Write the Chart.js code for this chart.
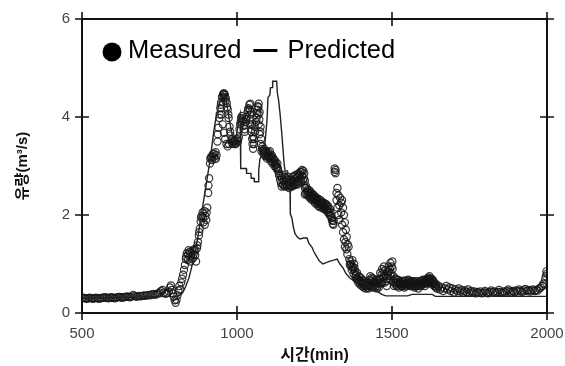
<!DOCTYPE html>
<html>
<head>
<meta charset="utf-8">
<script src="https://cdn.jsdelivr.net/npm/chart.js@4"></script>
<style>
  html, body { margin:0; padding:0; background:#fff; }
  #wrap { width:565px; height:366px; }
</style>
</head>
<body>
<div id="wrap"><canvas id="flowChart" width="565" height="366"></canvas></div>
<script>
/* ── data: time (min), flow (m³/s) ── */
const xTicks = [500, 1000, 1500, 2000];
const yTicks = [0, 2, 4, 6];

const measured = [
  [500,.30],[505,.31],[510,.30],[515,.29],[520,.30],[525,.31],[530,.30],[535,.29],[540,.30],[545,.31],
  [550,.30],[555,.29],[560,.30],[565,.31],[570,.31],[575,.32],[580,.31],[585,.30],[590,.31],[595,.32],
  [600,.31],[605,.30],[610,.31],[615,.32],[620,.33],[625,.32],[630,.31],[635,.32],[640,.33],[645,.34],
  [650,.33],[655,.32],[660,.34],[665,.37],[670,.35],[675,.33],[680,.34],[685,.35],[690,.34],[695,.35],
  [700,.36],[705,.35],[710,.36],[715,.37],[720,.36],[725,.38],[730,.39],[735,.37],[740,.38],[745,.40],
  [750,.42],[755,.45],[760,.47],[765,.42],[770,.39],[775,.41],[780,.44],
  [784,.52],[787,.56],[790,.47],[793,.40],[796,.33],[799,.26],[802,.21],[805,.27],[808,.36],[811,.46],
  [814,.55],[817,.48],[820,.62],[823,.70],[826,.78],[829,.88],[832,.98],[835,1.10],[838,1.22],[841,1.08],
  [844,1.28],[847,1.15],[850,1.05],[853,1.22],[856,1.27],[859,1.12],[862,1.30],[865,1.18],[868,1.05],
  [871,1.32],[874,1.45],[877,1.58],[880,1.72],[883,1.86],[886,1.98],[889,2.05],[892,1.85],[895,2.08],
  [898,1.98],[901,1.90],[904,2.15],[907,2.45],[910,2.75],[913,3.05],[916,3.18],[919,3.12],[922,3.24],
  [925,3.18],[928,3.14],[931,3.28],[934,3.22],[937,3.50],[940,3.78],[943,3.98],[946,4.18],[949,4.30],
  [952,4.40],[955,4.46],[958,4.48],[961,4.45],[964,4.38],[967,4.28],[970,4.15],[973,3.98],[976,3.80],
  [979,3.62],[982,3.52],[985,3.46],[988,3.50],[991,3.45],[994,3.52],[997,3.48],[1000,3.55],[1003,3.50],
  [1006,3.58],
  [950,4.05],[954,3.85],[958,3.68],[962,3.55],[966,3.45],[970,3.40],[974,3.45],
  [836,1.15],[842,1.20],[848,1.25],[854,1.10],[860,1.20],[866,1.28],[872,1.38],[878,1.65],[884,1.95],
  [890,1.95],[896,1.80],[902,2.05],[908,2.60],[914,3.15],[920,3.20],[926,3.25],[932,3.15],[938,3.65],
  [944,4.05],[948,4.25],[953,4.42],[957,4.48],[960,4.40],[963,4.32],[968,4.20],[972,4.05],[978,3.70],
  [984,3.55],[990,3.50],[996,3.45],[1002,3.52],[1008,3.75],
  [1010,3.85],[1013,3.98],[1016,4.02],[1019,3.92],[1022,3.82],[1025,3.70],[1028,3.90],[1031,4.00],
  [1034,4.10],[1037,4.18],[1040,4.25],[1043,4.27],[1043,4.05],[1043,3.85],[1046,4.10],[1046,3.70],
  [1049,3.55],[1049,3.85],[1052,3.35],[1052,3.60],[1055,3.45],[1058,3.70],[1061,3.90],[1064,4.08],
  [1067,4.22],[1070,4.27],[1070,4.05],[1070,3.85],[1073,4.10],[1073,3.65],[1076,3.45],[1076,3.80],
  [1079,3.30],[1082,3.40],[1085,3.25],[1088,3.35],[1091,3.20],[1094,3.30],[1097,3.15],[1100,3.25],
  [1103,3.18],[1106,3.30],[1109,3.10],[1112,3.22],[1115,3.05],[1118,3.15],[1121,3.00],[1124,3.10],
  [1127,2.95],[1130,3.05],[1133,2.90],[1136,2.80],[1139,2.72],[1142,2.65],[1145,2.75],[1148,2.62],
  [1012,3.90],[1018,3.95],[1024,3.75],[1030,3.95],[1036,4.15],[1041,4.15],[1044,3.95],[1047,3.75],
  [1050,3.45],[1054,3.55],[1057,3.80],[1063,3.98],[1066,4.15],[1069,4.20],[1072,3.95],[1075,3.70],
  [1078,3.55],[1081,3.35],[1084,3.32],[1087,3.28],[1090,3.30],[1093,3.22],[1096,3.25],[1099,3.20],
  [1102,3.28],[1105,3.15],[1108,3.20],[1111,3.15],[1114,3.18],[1117,3.08],[1120,3.12],[1123,3.05],
  [1126,3.02],[1129,2.98],[1132,2.95],[1135,2.85],
  [1151,2.70],[1154,2.58],[1157,2.68],[1160,2.60],[1163,2.72],[1166,2.62],[1169,2.68],[1172,2.58],
  [1175,2.66],[1178,2.72],[1181,2.62],[1184,2.70],[1187,2.64],[1190,2.75],[1193,2.68],[1196,2.78],
  [1199,2.70],[1202,2.82],[1205,2.74],[1208,2.88],[1211,2.80],[1214,2.90],[1217,2.85],[1219,2.70],
  [1219,2.55],[1219,2.42],[1222,2.60],[1225,2.48],[1228,2.52],[1231,2.42],[1234,2.50],[1237,2.38],
  [1240,2.45],[1243,2.35],[1246,2.42],[1249,2.32],[1252,2.38],[1255,2.28],[1258,2.35],[1261,2.25],
  [1264,2.32],[1267,2.22],[1270,2.30],[1273,2.20],[1276,2.26],[1279,2.18],[1282,2.24],[1285,2.15],
  [1288,2.22],[1291,2.10],[1294,2.18],[1297,2.05],[1300,2.12],[1303,1.98],[1306,1.90],[1309,1.82],
  [1141,2.80],[1144,2.58],[1147,2.82],[1150,2.60],[1153,2.78],[1156,2.62],[1159,2.75],[1162,2.58],
  [1165,2.78],[1168,2.55],[1171,2.72],[1174,2.60],[1177,2.58],[1180,2.78],[1183,2.60],[1186,2.80],
  [1189,2.62],[1192,2.82],[1195,2.62],[1198,2.85],[1201,2.66],[1204,2.88],[1207,2.68],[1210,2.92],
  [1213,2.70],[1216,2.75],[1221,2.45],[1224,2.55],[1227,2.40],[1230,2.48],[1233,2.36],[1236,2.45],
  [1239,2.32],[1242,2.40],[1245,2.30],[1248,2.36],[1251,2.25],[1254,2.33],[1257,2.22],[1260,2.30],
  [1263,2.18],[1266,2.26],[1269,2.16],[1272,2.25],[1275,2.14],[1278,2.22],[1281,2.12],[1284,2.20],
  [1287,2.10],[1290,2.18],[1293,2.05],[1296,2.12],[1299,2.00],[1302,2.05],[1305,1.95],[1308,1.88],
  [1311,1.80],
  [1312,1.88],[1315,2.95],[1315,2.88],[1318,2.92],[1318,2.85],[1321,2.45],[1321,2.30],[1324,2.55],
  [1324,2.15],[1327,2.40],[1327,2.00],[1330,2.20],[1330,1.90],[1333,2.35],[1336,2.25],[1336,2.05],
  [1339,2.30],[1339,1.80],[1342,2.15],[1342,1.65],[1345,2.00],[1345,1.50],[1348,1.85],[1348,1.35],
  [1351,1.70],[1354,1.55],[1357,1.40],[1360,1.35],[1366,1.05],[1369,0.95],[1372,1.08],[1375,0.90],
  [1378,1.00],[1381,0.85],[1384,0.78],[1387,0.82],[1390,0.70],[1393,0.75],[1396,0.65],[1399,0.72],
  [1402,0.60],[1405,0.68],[1408,0.58],[1411,0.65],[1414,0.55],[1417,0.62],[1420,0.52],[1423,0.60],
  [1426,0.55],[1429,0.68],[1432,0.58],[1435,0.72],[1438,0.62],[1441,0.55],[1444,0.65],[1447,0.58],
  [1450,0.62],[1453,0.55],[1456,0.60],[1459,0.70],[1462,0.82],[1465,0.60],[1468,0.90],[1471,0.72],
  [1350,1.45],[1353,1.30],[1356,1.20],[1362,1.10],[1364,0.98],[1367,1.00],[1370,0.88],[1373,0.95],
  [1376,0.80],[1379,0.92],[1382,0.75],[1385,0.70],[1388,0.68],[1391,0.62],[1394,0.66],[1397,0.58],
  [1400,0.64],[1403,0.55],[1406,0.62],[1409,0.52],[1412,0.58],[1415,0.50],[1418,0.56],[1421,0.62],
  [1424,0.50],[1427,0.58],[1430,0.75],[1433,0.65],[1436,0.52],[1439,0.70],[1442,0.62],[1445,0.52],
  [1448,0.68],[1451,0.50],[1454,0.66],[1457,0.52],[1460,0.62],
  [1474,0.95],[1477,0.62],[1480,0.75],[1483,0.55],[1486,0.85],[1489,0.95],[1492,0.70],[1495,1.02],
  [1498,0.80],[1501,1.05],[1504,0.65],[1507,0.55],[1510,0.70],[1513,0.62],[1516,0.55],[1519,0.60],
  [1522,0.52],[1525,0.58],[1528,0.62],[1531,0.55],[1534,0.65],[1537,0.58],[1540,0.52],[1543,0.60],
  [1546,0.55],[1549,0.62],[1552,0.68],[1555,0.58],[1558,0.62],[1561,0.55],[1564,0.60],[1567,0.65],
  [1570,0.58],[1573,0.52],[1576,0.62],[1579,0.55],[1582,0.60],[1585,0.50],[1588,0.58],[1591,0.65],
  [1594,0.55],[1597,0.62],[1600,0.68],[1603,0.60],[1606,0.55],[1609,0.62],[1612,0.70],[1615,0.60],
  [1618,0.72],[1621,0.75],[1624,0.62],[1627,0.70],[1630,0.58],[1633,0.65],[1636,0.55],[1639,0.60],
  [1642,0.52],[1645,0.50],
  [1463,0.70],[1466,0.78],[1469,0.62],[1472,0.85],[1475,0.75],[1478,0.88],[1481,0.65],[1484,0.70],
  [1487,0.78],[1490,0.85],[1493,0.90],[1496,0.75],[1499,0.95],[1502,0.90],[1505,0.75],[1508,0.62],
  [1511,0.58],[1514,0.68],[1517,0.62],[1520,0.68],[1523,0.60],[1526,0.65],[1529,0.55],[1532,0.60],
  [1535,0.55],[1538,0.66],[1541,0.58],[1544,0.66],[1547,0.60],[1550,0.58],[1553,0.62],[1556,0.66],
  [1559,0.55],[1562,0.65],[1565,0.58],[1568,0.55],[1571,0.65],[1574,0.60],[1577,0.55],[1580,0.65],
  [1583,0.56],[1586,0.62],[1589,0.55],[1592,0.60],[1595,0.66],[1598,0.58],[1601,0.62],[1604,0.66],
  [1607,0.60],[1610,0.66],[1613,0.62],[1616,0.68],[1619,0.65],[1622,0.70],[1625,0.66],[1628,0.62],
  [1631,0.68],[1634,0.60],[1637,0.62],[1640,0.55],[1643,0.58],
  [1650,.55],[1655,.48],[1660,.52],[1665,.45],[1670,.50],[1675,.55],[1680,.48],[1685,.52],[1690,.45],
  [1695,.50],[1700,.42],[1705,.48],[1710,.45],[1715,.50],[1720,.44],[1725,.47],[1730,.42],[1735,.46],
  [1740,.43],[1745,.48],[1750,.42],[1755,.45],[1760,.42],[1765,.44],[1770,.40],[1775,.43],[1780,.41],
  [1785,.44],[1790,.40],[1795,.42],[1800,.45],[1805,.42],[1810,.40],[1815,.43],[1820,.46],[1825,.42],
  [1830,.44],[1835,.41],[1840,.43],[1845,.47],[1850,.43],[1855,.41],[1860,.44],[1865,.42],[1870,.45],
  [1875,.48],[1880,.44],[1885,.42],[1890,.45],[1895,.43],[1900,.46],[1905,.44],[1910,.48],[1915,.45],
  [1920,.43],[1925,.46],[1930,.49],[1935,.45],[1940,.47],[1945,.44],[1950,.46],[1955,.48],[1960,.45],
  [1965,.47],[1970,.46],[1975,.50],[1980,.52],[1985,.55],[1988,.60],[1991,.58],[1994,.68],[1996,.75],
  [1998,.85],[2000,.80]
];

const predicted = [
  [500,.30],[600,.31],[700,.33],[790,.34],[810,.35],[815,.36],[820,.38],[825,.42],[830,.48],[835,.55],
  [840,.63],[845,.72],[850,.84],[855,.97],[860,1.10],[865,1.25],[870,1.42],[875,1.60],[880,1.80],
  [885,2.00],[890,2.20],[895,2.40],[900,2.60],[905,2.80],[910,3.00],[915,3.22],[920,3.45],[925,3.70],
  [930,3.90],[935,4.05],[940,4.20],[945,4.30],[950,4.40],[955,4.45],[960,4.45],[965,4.35],[970,4.15],
  [975,3.95],[980,3.78],[985,3.62],[990,3.52],[995,3.55],[1000,3.70],[1005,3.90],[1010,4.05],
  [1012,2.95],[1030,2.95],[1031,2.85],[1045,2.85],[1046,2.75],[1055,2.75],[1056,2.68],[1068,2.68],
  [1070,2.90],[1074,3.15],[1088,3.30],[1092,3.60],[1097,3.95],[1100,4.40],[1106,4.45],[1108,4.60],
  [1114,4.60],[1115,4.73],[1128,4.73],[1130,4.50],[1134,4.35],[1139,4.06],[1144,3.70],[1148,3.37],
  [1152,3.05],[1155,2.90],[1163,2.90],[1165,2.60],[1171,2.55],[1172,2.02],[1177,1.94],[1182,1.75],
  [1187,1.62],[1195,1.55],[1203,1.51],[1215,1.53],[1226,1.53],[1232,1.42],[1242,1.34],[1248,1.25],
  [1258,1.14],[1266,1.06],[1277,1.00],[1288,1.03],[1300,1.06],[1312,1.08],[1323,1.10],[1332,1.00],
  [1342,0.92],[1352,0.80],[1365,0.71],[1376,0.66],[1387,0.61],[1397,0.64],[1408,0.62],[1419,0.58],
  [1430,0.53],[1441,0.49],[1452,0.45],[1462,0.40],[1471,0.37],[1480,0.35],[1550,0.35],[1565,0.38],
  [1630,0.38],[1640,0.34],[2000,0.34]
];

const labels = { x: '시간(min)', y: '유량(m³/s)', measured: 'Measured', predicted: 'Predicted' };

/* ── frame with ticks crossing every side ── */
const framePlugin = {
  id: 'frame',
  afterDatasetsDraw(chart) {
    const { ctx, chartArea: a, scales } = chart;
    const t = 7;
    ctx.save();
    ctx.strokeStyle = '#111';
    ctx.lineWidth = 2;
    ctx.strokeRect(a.left, a.top, a.right - a.left, a.bottom - a.top);
    ctx.lineWidth = 1.6;
    ctx.beginPath();
    xTicks.forEach(v => {
      const x = scales.x.getPixelForValue(v);
      ctx.moveTo(x, a.bottom - t); ctx.lineTo(x, a.bottom + t);
      ctx.moveTo(x, a.top - t);    ctx.lineTo(x, a.top + t);
    });
    yTicks.forEach(v => {
      const y = scales.y.getPixelForValue(v);
      ctx.moveTo(a.left - t, y);  ctx.lineTo(a.left + t, y);
      ctx.moveTo(a.right - t, y); ctx.lineTo(a.right + t, y);
    });
    ctx.stroke();
    ctx.restore();
  }
};

/* ── legend written inside the plot ── */
const legendPlugin = {
  id: 'inlineLegend',
  afterDraw(chart) {
    const { ctx, chartArea: a } = chart;
    const base = a.top + 39;
    ctx.save();
    ctx.fillStyle = '#000';
    ctx.beginPath();
    ctx.arc(a.left + 30, base - 6, 9.5, 0, Math.PI * 2);
    ctx.fill();
    ctx.font = '25.5px "Liberation Sans", Arial, sans-serif';
    ctx.textBaseline = 'alphabetic';
    ctx.fillText(labels.measured, a.left + 46, base);
    const w = ctx.measureText(labels.measured).width;
    const dx = a.left + 46 + w + 12;
    ctx.fillRect(dx, base - 9, 24, 3);
    ctx.fillText(labels.predicted, dx + 34, base);
    ctx.restore();
  }
};

const tickFont  = { family: '"Liberation Sans", Arial, sans-serif', size: 15 };
const titleFont = { family: '"Liberation Sans", "Noto Sans CJK KR", sans-serif', size: 15, weight: 'bold' };

new Chart(document.getElementById('flowChart'), {
  type: 'scatter',
  data: {
    datasets: [
      {
        label: labels.predicted,
        type: 'line',
        data: predicted.map(([x, y]) => ({ x, y })),
        borderColor: '#222',
        borderWidth: 1.4,
        pointRadius: 0,
        tension: 0,
        fill: false,
        order: 0,
      },
      {
        label: labels.measured,
        data: measured.map(([x, y]) => ({ x, y })),
        pointRadius: 3.6,
        pointBorderWidth: 1.2,
        pointBorderColor: 'rgba(20,20,20,0.85)',
        pointBackgroundColor: 'rgba(0,0,0,0)',
        order: 1,
      },
    ],
  },
  options: {
    responsive: false,
    animation: false,
    devicePixelRatio: 1,
    layout: { padding: { top: 19, right: 18, left: 0, bottom: 0 } },
    scales: {
      x: {
        type: 'linear', min: 500, max: 2000,
        afterFit: s => { s.height = 53; s.paddingLeft = 0; s.paddingRight = 0; },
        afterBuildTicks: s => { s.ticks = xTicks.map(v => ({ value: v })); },
        grid: { display: false }, border: { display: false },
        ticks: { color: '#444', font: tickFont, padding: 4, maxRotation: 0, callback: v => String(v) },
        title: { display: true, text: labels.x, color: '#111', font: { ...titleFont, size: 16 }, padding: { top: 0, bottom: 1 } },
      },
      y: {
        min: 0, max: 6,
        afterFit: s => { s.width = 82; s.paddingTop = 0; s.paddingBottom = 0; },
        afterBuildTicks: s => { s.ticks = yTicks.map(v => ({ value: v })); },
        grid: { display: false }, border: { display: false },
        ticks: { color: '#444', font: tickFont, padding: 4 },
        title: { display: true, text: labels.y, color: '#111', font: titleFont, padding: { top: 14, bottom: 0 } },
      },
    },
    plugins: { legend: { display: false }, tooltip: { enabled: false } },
  },
  plugins: [framePlugin, legendPlugin],
});
</script>
</body>
</html>
